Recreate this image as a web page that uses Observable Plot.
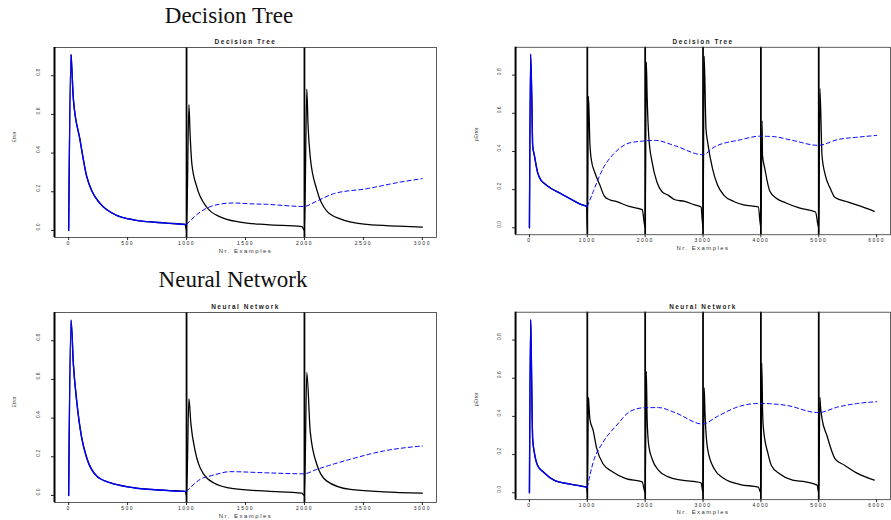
<!DOCTYPE html>
<html><head><meta charset="utf-8">
<script src="https://cdn.jsdelivr.net/npm/d3@7"></script>
<script src="https://cdn.jsdelivr.net/npm/@observablehq/plot@0.6"></script>
<style>
html,body{margin:0;padding:0;background:#fff;overflow:hidden;width:891px;height:520px;}
#root{position:relative;width:891px;height:520px;overflow:hidden;}
.section{position:absolute;font-family:"Liberation Serif","DejaVu Serif",serif;font-size:23px;line-height:23px;color:#111;transform:translateX(-50%);white-space:nowrap;}
.panel{position:absolute;}
.panel svg{overflow:visible;}
.rot text{letter-spacing:0;}
</style></head><body><div id="root"></div>
<script>
// ---- shared ticks / change points ----
const changes3k = [1000, 2000];
const changes6k = [1000, 2000, 3000, 4000, 5000];
const xTicks3k = [0, 500, 1000, 1500, 2000, 2500, 3000];
const xTicks6k = [0, 1000, 2000, 3000, 4000, 5000, 6000];
const yTicks = [0, 0.2, 0.4, 0.6, 0.8];
const sectionTitles = ["Decision Tree", "Neural Network"];
const panelTitles = ["Decision Tree", "Decision Tree", "Neural Network", "Neural Network"];
const yLabels = ["Error", "pError", "Error", "pError"];
const xLabel = "Nr. Examples";

// ---- Decision Tree, 3000 examples ----
const dtAX = [0,20,25,40,96,153,200,266,407,549,832,988, 1000,1020,1030,1045,1087,1172,1285,1455,1681,1978, 2000,2020,2030,2049,2105,2190,2303,2530,2800,3000];
const dtAErr = [0,0.91,0.86,0.68,0.47,0.28,0.2,0.14,0.078,0.055,0.038,0.031, 0,0.65,0.5,0.345,0.225,0.12,0.07,0.043,0.03,0.02, 0,0.73,0.55,0.38,0.21,0.10,0.06,0.031,0.022,0.017];
const dtABlueX = [1000,1115,1257,1398,1540,1681,1993,2105,2247,2530,2813,3000];
const dtABlue = [0.031,0.095,0.133,0.142,0.138,0.135,0.124,0.152,0.19,0.216,0.25,0.268];

// ---- Decision Tree, 6000 examples ----
const dtBX = [0,20,40,56,85,141,198,254,367,537,706,876,989,
  1000,1020,1045,1073,1130,1215,1299,1384,1497,1723,1949,
  2000,2020,2034,2062,2119,2203,2288,2401,2514,2684,2853,2966,
  3000,3020,3051,3079,3164,3249,3362,3531,3701,3955,
  4000,4020,4028,4068,4153,4266,4435,4661,4944,
  5000,5020,5056,5113,5198,5282,5508,5734,5960];
const dtBErr = [0,0.91,0.69,0.43,0.38,0.29,0.25,0.233,0.207,0.18,0.152,0.124,0.112,
  0,0.69,0.44,0.35,0.29,0.225,0.164,0.147,0.138,0.112,0.095,
  0,0.87,0.69,0.48,0.345,0.24,0.19,0.17,0.147,0.138,0.12,0.109,
  0,0.9,0.52,0.45,0.31,0.225,0.17,0.138,0.12,0.109,
  0,0.56,0.38,0.31,0.193,0.155,0.13,0.104,0.083,
  0,0.73,0.38,0.276,0.207,0.159,0.135,0.112,0.086];
const dtBBlueX = [1000,1102,1271,1497,1723,1949,2175,2514,2994,3192,3644,3983,4209,4548,4989,5339,5678,6000];
const dtBBlue = [0.112,0.19,0.31,0.40,0.444,0.454,0.458,0.43,0.383,0.423,0.461,0.48,0.478,0.458,0.432,0.463,0.475,0.484];

// ---- Neural Network, 3000 examples ----
const nnAX = [0,20,40,68,110,153,238,351,549,832,988, 1000,1020,1037,1073,1115,1228,1398,1681,1978, 2000,2020,2049,2105,2190,2388,2671,3000];
const nnAErr = [0,0.907,0.68,0.49,0.30,0.195,0.10,0.066,0.04,0.026,0.021, 0,0.50,0.37,0.23,0.143,0.066,0.035,0.022,0.012, 0,0.636,0.33,0.16,0.074,0.031,0.019,0.012];
const nnABlueX = [1000,1115,1228,1370,1681,1993,2105,2388,2671,3000];
const nnABlue = [0.021,0.083,0.105,0.123,0.117,0.112,0.135,0.187,0.23,0.256];

// ---- Neural Network, 6000 examples ----
const nnBX = [0,20,28,56,85,141,254,424,706,989,
  1000,1020,1028,1045,1102,1158,1271,1441,1667,1949,
  2000,2020,2034,2062,2119,2232,2401,2627,2966,
  3000,3020,3034,3079,3192,3362,3644,3955,
  4000,4015,4030,4045,4124,4181,4322,4548,4774,4972,
  5000,5020,5028,5056,5141,5282,5452,5678,5960];
const nnBErr = [0,0.907,0.8,0.28,0.21,0.143,0.105,0.066,0.045,0.029,
  0,0.50,0.46,0.385,0.325,0.238,0.152,0.109,0.074,0.057,
  0,0.636,0.385,0.247,0.178,0.117,0.083,0.066,0.052,
  0,0.55,0.42,0.23,0.126,0.074,0.043,0.029,
  0,0.68,0.42,0.333,0.204,0.143,0.10,0.066,0.057,0.04,
  0,0.50,0.46,0.39,0.30,0.178,0.143,0.10,0.066];
const nnBBlueX = [1000,1102,1271,1497,1751,2006,2232,2514,2994,3249,3644,3983,4435,4989,5339,5678,6000];
const nnBBlue = [0.029,0.16,0.264,0.35,0.428,0.446,0.446,0.42,0.36,0.40,0.454,0.468,0.458,0.42,0.45,0.468,0.477];

const yDomain = [-0.0364, 0.946];

function panel(o) {
  const black = o.bx.map((x, i) => ({x, y: o.by[i]}));
  const first = black.filter(d => d.x < o.changes[0]);
  const blue = o.ux.map((x, i) => ({x, y: o.uy[i]}));
  return Plot.plot({
    width: o.width, height: o.height,
    marginLeft: o.ml, marginRight: o.mr, marginTop: o.mt, marginBottom: o.mb,
    x: {domain: o.xDomain}, y: {domain: yDomain},
    style: {fontFamily: "'Liberation Sans', Arial, sans-serif", letterSpacing: "1.5px", background: "transparent", color: "#222"},
    marks: [
      Plot.ruleX(o.changes, {stroke: "black", strokeWidth: 1.8}),
      Plot.line(black, {x: "x", y: "y", stroke: "black", strokeWidth: 1.3, curve: "monotone-x"}),
      Plot.line(first, {x: "x", y: "y", stroke: "#0000ff", strokeWidth: 1.4, curve: "monotone-x"}),
      Plot.line(blue, {x: "x", y: "y", stroke: "#0000ff", strokeWidth: 1, strokeDasharray: "4,3", curve: "monotone-x"}),
      Plot.frame({stroke: "#333", strokeWidth: 0.8}),
      Plot.ruleX([o.xDomain[0]], {stroke: "black", strokeWidth: 2}),
      Plot.axisX({ticks: o.xTicks, tickSize: 3, tickPadding: 1, fontSize: 5, tickFormat: d => String(d), label: null}),
      Plot.axisY({ticks: yTicks, tickSize: 3, tickFormat: () => "", label: null}),
      Plot.text(yTicks, {y: d => d, frameAnchor: "left", dx: -16, rotate: -90, text: d => d.toFixed(1), fontSize: 5, fill: "#444", className: "rot"}),
      Plot.text([o.title], {frameAnchor: "top", dy: -8, fontWeight: "bold", fontSize: 6.5}),
      Plot.text([xLabel], {frameAnchor: "bottom", dy: 15, fontSize: 6, fill: "#333"}),
      Plot.text([o.ylabel], {frameAnchor: "left", dx: -40, rotate: -90, fontSize: 5, fill: "#444", className: "rot"})
    ]
  });
}

const root = document.getElementById("root");
function place(node, left, top) {
  const d = document.createElement("div");
  d.className = "panel";
  d.style.left = left + "px"; d.style.top = top + "px";
  d.appendChild(node);
  root.appendChild(d);
}
function section(text, cx, top) {
  const d = document.createElement("div");
  d.className = "section";
  d.style.left = cx + "px"; d.style.top = top + "px";
  d.textContent = text;
  root.appendChild(d);
}

section(sectionTitles[0], 229, 4);
section(sectionTitles[1], 233, 268);

place(panel({bx: dtAX, by: dtAErr, ux: dtABlueX, uy: dtABlue, changes: changes3k, xTicks: xTicks3k,
  xDomain: [-120, 3120], title: panelTitles[0], ylabel: yLabels[0],
  width: 445, height: 230, ml: 54, mr: 9, mt: 17, mb: 23}), 0, 30);
place(panel({bx: dtBX, by: dtBErr, ux: dtBBlueX, uy: dtBBlue, changes: changes6k, xTicks: xTicks6k,
  xDomain: [-240, 6240], title: panelTitles[1], ylabel: yLabels[1],
  width: 452, height: 230, ml: 71, mr: 1, mt: 17, mb: 23}), 445, 30);
place(panel({bx: nnAX, by: nnAErr, ux: nnABlueX, uy: nnABlue, changes: changes3k, xTicks: xTicks3k,
  xDomain: [-120, 3120], title: panelTitles[2], ylabel: yLabels[2],
  width: 445, height: 230, ml: 54, mr: 9, mt: 22, mb: 18}), 0, 290);
place(panel({bx: nnBX, by: nnBErr, ux: nnBBlueX, uy: nnBBlue, changes: changes6k, xTicks: xTicks6k,
  xDomain: [-240, 6240], title: panelTitles[3], ylabel: yLabels[3],
  width: 452, height: 230, ml: 71, mr: 1, mt: 22, mb: 18}), 445, 290);
</script>
</body></html>
